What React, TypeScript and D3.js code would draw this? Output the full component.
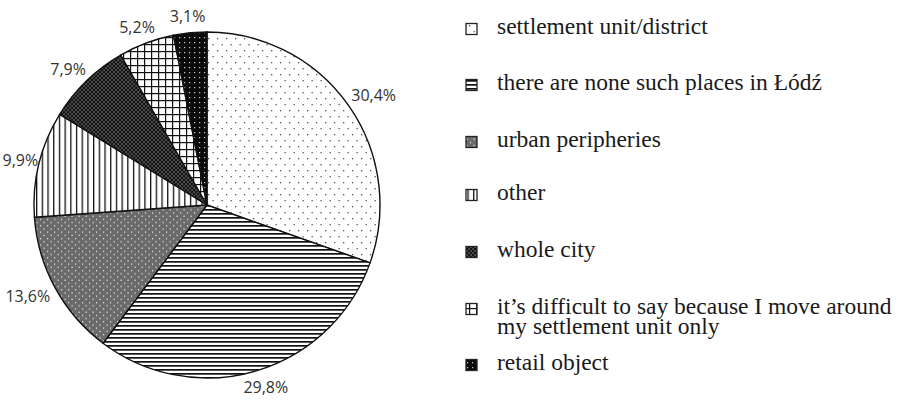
import React from "react";
import * as d3 from "d3";

const categories = [
	"settlement unit/district",
	"there are none such places in Łódź",
	"urban peripheries",
	"other",
	"whole city",
	"it’s difficult to say because I move around|my settlement unit only",
	"retail object",
];
const shares = [30.4, 29.8, 13.6, 9.9, 7.9, 5.2, 3.1];
const shareLabels = ["30,4%", "29,8%", "13,6%", "9,9%", "7,9%", "5,2%", "3,1%"];
const patternIds = ["pDots", "pHoriz", "pUrban", "pVert", "pCity", "pGrid", "pRetail"];
// baselines of legend rows
const legendBaselines = [34, 90, 147, 200, 257, 314, 370];

const W = 903;
const H = 407;
const cx = 207;
const cy = 205;
const R = 173;

function Patterns() {
	return (
		<defs>
			<pattern id="pDots" patternUnits="userSpaceOnUse" width="9" height="12">
				<rect width="9" height="12" fill="#fff" />
				<rect x="1" y="1" width="1.3" height="1.3" fill="#555" />
				<rect x="5.5" y="7" width="1.3" height="1.3" fill="#555" />
			</pattern>
			<pattern id="pHoriz" patternUnits="userSpaceOnUse" width="8" height="4">
				<rect width="8" height="4" fill="#fff" />
				<rect y="0" width="8" height="1.7" fill="#111" />
			</pattern>
			<pattern id="pVert" patternUnits="userSpaceOnUse" width="5.7" height="8">
				<rect width="5.7" height="8" fill="#fff" />
				<rect x="0" width="1.3" height="8" fill="#111" />
			</pattern>
			<pattern id="pGrid" patternUnits="userSpaceOnUse" width="7" height="7">
				<rect width="7" height="7" fill="#fff" />
				<rect x="0" width="1.2" height="7" fill="#111" />
				<rect y="0" width="7" height="1.2" fill="#111" />
			</pattern>
			<pattern id="pUrban" patternUnits="userSpaceOnUse" width="7" height="6.4">
				<rect width="7" height="6.4" fill="#6a6a6a" />
				<rect x="1" y="1" width="1.2" height="1.2" fill="#eee" />
				<rect x="4.5" y="4.2" width="1.2" height="1.2" fill="#eee" />
			</pattern>
			<pattern id="pCity" patternUnits="userSpaceOnUse" width="4" height="4">
				<rect width="4" height="4" fill="#151515" />
				<rect x="0.5" y="0.5" width="1.1" height="1.1" fill="#bbb" />
				<rect x="2.5" y="2.5" width="1.1" height="1.1" fill="#bbb" />
			</pattern>
			<pattern id="pRetail" patternUnits="userSpaceOnUse" width="5" height="5">
				<rect width="5" height="5" fill="#0a0a0a" />
				<rect x="2" y="2" width="1.2" height="1.2" fill="#ccc" />
			</pattern>
		</defs>
	);
}

export default function App() {
	const pie = d3
		.pie<number>()
		.sort(null)
		.value((d) => d);
	const arcs = pie(shares);
	const arcGen = d3.arc<d3.PieArcDatum<number>>().innerRadius(0).outerRadius(R);

	// label placement: text box just outside the arc end
	const labelPos = (a: d3.PieArcDatum<number>, label: string) => {
		const mid = (a.startAngle + a.endAngle) / 2;
		const s = Math.sin(mid);
		const c = -Math.cos(mid);
		const hw = label.length * 4.6;
		const hh = 9;
		let x = cx + (R + 8) * s + s * hw;
		const y = cy + (R + 8) * c + c * hh;
		x = Math.max(x, hw + 2);
		return [x, y];
	};

	return (
		<svg
			width={W}
			height={H}
			style={{ position: "absolute", left: 0, top: 0, background: "#fff" }}
		>
			<Patterns />
			<g transform={`translate(${cx},${cy})`}>
				{arcs.map((a, i) => (
					<path
						key={i}
						d={arcGen(a) || ""}
						fill={`url(#${patternIds[i]})`}
						stroke="#111"
						strokeWidth={1.4}
					/>
				))}
			</g>
			{arcs.map((a, i) => {
				const [x, y] = labelPos(a, shareLabels[i]);
				return (
					<text
						key={i}
						x={x}
						y={y}
						textAnchor="middle"
						dominantBaseline="central"
						fontFamily="'Open Sans', 'Noto Sans', sans-serif"
						fontSize={16}
						fill="#333"
					>
						{shareLabels[i]}
					</text>
				);
			})}
			{categories.map((c, i) => {
				const base = legendBaselines[i];
				const lines = c.split("|");
				return (
					<g key={i}>
						<rect
							x={466}
							y={base - 10.5}
							width={11}
							height={11}
							fill={`url(#${patternIds[i]})`}
							stroke="#222"
							strokeWidth={1.3}
						/>
						<text
							x={497}
							y={base}
							fontFamily="'Liberation Serif', 'Times New Roman', serif"
							fontSize={23.5}
							fill="#1a1a1a"
						>
							{lines.map((l, j) => (
								<tspan key={j} x={497} dy={j === 0 ? 0 : 19.5}>
									{l}
								</tspan>
							))}
						</text>
					</g>
				);
			})}
		</svg>
	);
}
